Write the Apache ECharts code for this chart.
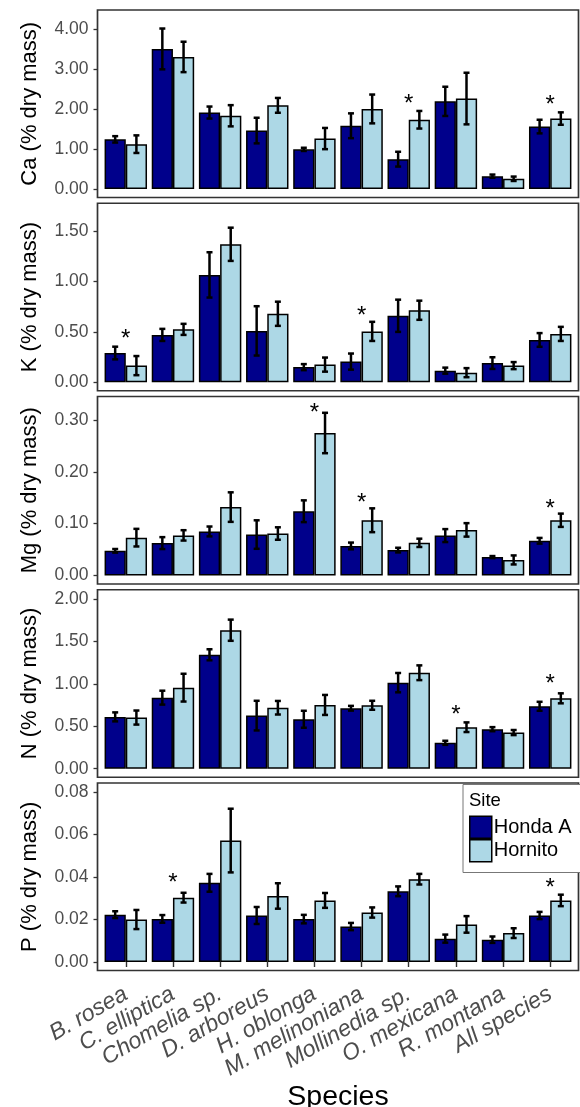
<!DOCTYPE html>
<html><head><meta charset="utf-8">
<script src="https://cdn.jsdelivr.net/npm/echarts@6/dist/echarts.min.js"></script>
<style>html,body{margin:0;padding:0;background:#fff}#c{width:580px;height:1107px}</style>
</head><body><div id="c"></div>
<script>
// ---------- DATA ----------
const categories = ['B. rosea','C. elliptica','Chomelia sp.','D. arboreus','H. oblonga','M. melinoniana','Mollinedia sp.','O. mexicana','R. montana','All species'];
const siteNames = ['Honda A','Hornito'];

const caHonda     = [1.24, 3.50, 1.91, 1.46, 0.99, 1.58, 0.745, 2.19, 0.32, 1.56];
const caHondaSE   = [0.08, 0.51, 0.15, 0.32, 0.04, 0.31, 0.185, 0.365, 0.04, 0.17];
const caHornito   = [1.12, 3.30, 1.83, 2.09, 1.26, 2.00, 1.73, 2.26, 0.255, 1.76];
const caHornitoSE = [0.22, 0.38, 0.265, 0.185, 0.265, 0.36, 0.22, 0.645, 0.055, 0.155];
const caStarCats  = ['Mollinedia sp.','All species'];
const caStarY     = [2.24, 2.21];
const caTicks     = [0, 1, 2, 3, 4];

const kHonda      = [0.29, 0.47, 1.066, 0.51, 0.15, 0.205, 0.66, 0.115, 0.19, 0.42];
const kHondaSE    = [0.063, 0.06, 0.225, 0.245, 0.03, 0.08, 0.16, 0.03, 0.058, 0.068];
const kHornito    = [0.165, 0.525, 1.37, 0.68, 0.175, 0.505, 0.715, 0.095, 0.165, 0.48];
const kHornitoSE  = [0.095, 0.055, 0.165, 0.12, 0.07, 0.095, 0.095, 0.045, 0.035, 0.07];
const kStarCats   = ['B. rosea','M. melinoniana'];
const kStarY      = [0.48, 0.705];
const kTicks      = [0, 0.5, 1, 1.5];

const mgHonda     = [0.0476, 0.0625, 0.085, 0.079, 0.124, 0.057, 0.049, 0.077, 0.0355, 0.067];
const mgHondaSE   = [0.0035, 0.0115, 0.0095, 0.0275, 0.021, 0.0065, 0.0045, 0.0125, 0.002, 0.0055];
const mgHornito   = [0.073, 0.0774, 0.132, 0.081, 0.275, 0.1066, 0.063, 0.088, 0.030, 0.1066];
const mgHornitoSE = [0.017, 0.01, 0.0285, 0.012, 0.039, 0.023, 0.008, 0.013, 0.0087, 0.0128];
const mgStarCats  = ['H. oblonga','M. melinoniana','All species'];
const mgStarY     = [0.322, 0.148, 0.137];
const mgTicks     = [0, 0.1, 0.2, 0.3];

const nHonda      = [0.612, 0.839, 1.345, 0.627, 0.584, 0.714, 1.016, 0.306, 0.467, 0.737];
const nHondaSE    = [0.053, 0.082, 0.065, 0.175, 0.10, 0.028, 0.114, 0.024, 0.024, 0.053];
const nHornito    = [0.604, 0.957, 1.635, 0.72, 0.753, 0.749, 1.133, 0.49, 0.427, 0.831];
const nHornitoSE  = [0.083, 0.164, 0.125, 0.08, 0.118, 0.053, 0.087, 0.057, 0.03, 0.059];
const nStarCats   = ['O. mexicana','All species'];
const nStarY      = [0.694, 1.059];
const nTicks      = [0, 0.5, 1, 1.5, 2];

const pHonda      = [0.0223, 0.0203, 0.0373, 0.0219, 0.0202, 0.0167, 0.0333, 0.011, 0.0105, 0.0219];
const pHondaSE    = [0.0016, 0.0018, 0.0042, 0.004, 0.002, 0.0017, 0.0023, 0.0019, 0.0015, 0.0017];
const pHornito    = [0.020, 0.0303, 0.0572, 0.0311, 0.029, 0.0233, 0.039, 0.0177, 0.0136, 0.029];
const pHornitoSE  = [0.0045, 0.0023, 0.015, 0.006, 0.0035, 0.0024, 0.0025, 0.0039, 0.0023, 0.0027];
const pStarCats   = ['C. elliptica','All species'];
const pStarY      = [0.0392, 0.0372];
const pTicks      = [0, 0.02, 0.04, 0.06, 0.08];

const panelTitles = ['Ca (% dry mass)','K (% dry mass)','Mg (% dry mass)','N (% dry mass)','P (% dry mass)'];
const xTitle = 'Species';
const legendTitle = 'Site';

// ---------- LAYOUT ----------
const FONT = '"Liberation Sans", Arial, Helvetica, sans-serif';
const frameLeft = 97.5, frameRight = 578.5;
const panelTop0 = 10, panelH = 187.5, panelStep = 193.25;
const catW = (frameRight - frameLeft) / 10.2;
const gridLeft = frameLeft + 0.1 * catW;
const gridRightGap = 580 - (frameRight - 0.1 * catW);
const colors = ['#00008B', '#ADD8E6'];
// data range maxima used for 5% expansion (ggplot style)
const panelRanges = [4.26, 1.693, 0.329, 2.012, 0.0803];

const panels = [
  {title: panelTitles[0], v:[caHonda, caHornito], se:[caHondaSE, caHornitoSE], sc: caStarCats, sy: caStarY, ticks: caTicks},
  {title: panelTitles[1], v:[kHonda, kHornito], se:[kHondaSE, kHornitoSE], sc: kStarCats, sy: kStarY, ticks: kTicks},
  {title: panelTitles[2], v:[mgHonda, mgHornito], se:[mgHondaSE, mgHornitoSE], sc: mgStarCats, sy: mgStarY, ticks: mgTicks},
  {title: panelTitles[3], v:[nHonda, nHornito], se:[nHondaSE, nHornitoSE], sc: nStarCats, sy: nStarY, ticks: nTicks},
  {title: panelTitles[4], v:[pHonda, pHornito], se:[pHondaSE, pHornitoSE], sc: pStarCats, sy: pStarY, ticks: pTicks}
];

const grids = [], xAxes = [], yAxes = [], series = [], graphics = [];

function errRender(shift) {
  return function (params, api) {
    const x = api.value(0), lo = api.value(1), hi = api.value(2);
    const bw = api.size([1, 0])[0];
    const p1 = api.coord([x, lo]), p2 = api.coord([x, hi]);
    const cx = p1[0] + shift * bw;
    const cap = 3;
    const st = {stroke: '#000', lineWidth: 2.5};
    return {type: 'group', children: [
      {type: 'line', shape: {x1: cx, y1: p1[1], x2: cx, y2: p2[1]}, style: st},
      {type: 'line', shape: {x1: cx - cap, y1: p1[1], x2: cx + cap, y2: p1[1]}, style: st},
      {type: 'line', shape: {x1: cx - cap, y1: p2[1], x2: cx + cap, y2: p2[1]}, style: st}
    ]};
  };
}
function starRender(params, api) {
  const p = api.coord([api.value(0), api.value(1)]);
  return {type: 'text', x: p[0], y: p[1] + 5, style: {text: '*', font: '24px ' + FONT, fill: '#000', align: 'center', verticalAlign: 'middle'}};
}

panels.forEach((pn, i) => {
  const top = panelTop0 + i * panelStep;
  const last = i === panels.length - 1;
  const R = panelRanges[i];
  grids.push({left: gridLeft, right: gridRightGap, top: top, height: panelH, containLabel: false, outerBoundsMode: 'none'});
  xAxes.push({
    type: 'category', gridIndex: i, data: categories,
    axisLine: {show: false},
    axisTick: {show: last, alignWithLabel: true, length: 5, lineStyle: {color: '#333', width: 1.4}},
    axisLabel: {show: last, rotate: 30, interval: 0, margin: 22, fontFamily: FONT, fontStyle: 'italic', fontSize: 23, color: '#4D4D4D'},
    name: last ? xTitle : '', nameLocation: 'middle', nameGap: 98,
    nameTextStyle: {fontFamily: FONT, fontSize: 28.5, color: '#000'},
    splitLine: {show: false}
  });
  yAxes.push({
    type: 'value', gridIndex: i, min: -0.05 * R, max: 1.05 * R, offset: gridLeft - frameLeft,
    axisLine: {show: false},
    axisTick: {show: true, length: 4, lineStyle: {color: '#333', width: 1.3}, customValues: pn.ticks},
    axisLabel: {show: true, margin: 9, fontFamily: FONT, fontSize: 17.5, color: '#4D4D4D', customValues: pn.ticks,
      formatter: v => Number(v).toFixed(2)},
    splitLine: {show: false},
    name: pn.title, nameLocation: 'middle', nameRotate: 90, nameGap: 57,
    nameTextStyle: {fontFamily: FONT, fontSize: 22, color: '#000'}
  });
  [0, 1].forEach(s => {
    series.push({
      type: 'bar', name: siteNames[s], xAxisIndex: i, yAxisIndex: i,
      data: pn.v[s], barWidth: '45%', barGap: '0%', z: 2,
      itemStyle: {color: colors[s], borderColor: '#000', borderWidth: 1.5},
      emphasis: {disabled: true}
    });
  });
  [0, 1].forEach(s => {
    series.push({
      type: 'custom', xAxisIndex: i, yAxisIndex: i, z: 5, clip: false,
      renderItem: errRender(s === 0 ? -0.225 : 0.225),
      encode: {x: 0, y: [1, 2]},
      data: pn.v[s].map((v, k) => [k, v - pn.se[s][k], v + pn.se[s][k]])
    });
  });
  series.push({
    type: 'custom', xAxisIndex: i, yAxisIndex: i, z: 6, clip: false,
    renderItem: starRender, encode: {x: 0, y: 1},
    data: pn.sc.map((c, k) => [categories.indexOf(c), pn.sy[k]])
  });
  graphics.push({type: 'rect', z: 50, silent: true,
    shape: {x: frameLeft, y: top, width: frameRight - frameLeft, height: panelH},
    style: {fill: null, stroke: '#333', lineWidth: 1.7}});
});

graphics.push({type: 'text', z: 120, left: 469, top: 791,
  style: {text: legendTitle, font: '18.5px ' + FONT, fill: '#000'}});

const option = {
  animation: false,
  backgroundColor: '#fff',
  textStyle: {fontFamily: FONT},
  grid: grids, xAxis: xAxes, yAxis: yAxes, series: series,
  legend: {
    data: siteNames.map(n => ({name: n, icon: 'rect'})),
    orient: 'vertical', left: 463, top: 784.5, z: 100,
    itemWidth: 22, itemHeight: 22, itemGap: 0,
    padding: [31, 12, 10, 6],
    backgroundColor: '#fff', borderColor: '#777', borderWidth: 1,
    itemStyle: {borderColor: '#000', borderWidth: 1.5},
    textStyle: {fontFamily: FONT, fontSize: 20, color: '#000', padding: [0, 0, 0, -3]},
    selectedMode: false
  },
  graphic: graphics
};
const chart = echarts.init(document.getElementById('c'), null, {renderer: 'canvas'});
chart.setOption(option);
</script></body></html>
